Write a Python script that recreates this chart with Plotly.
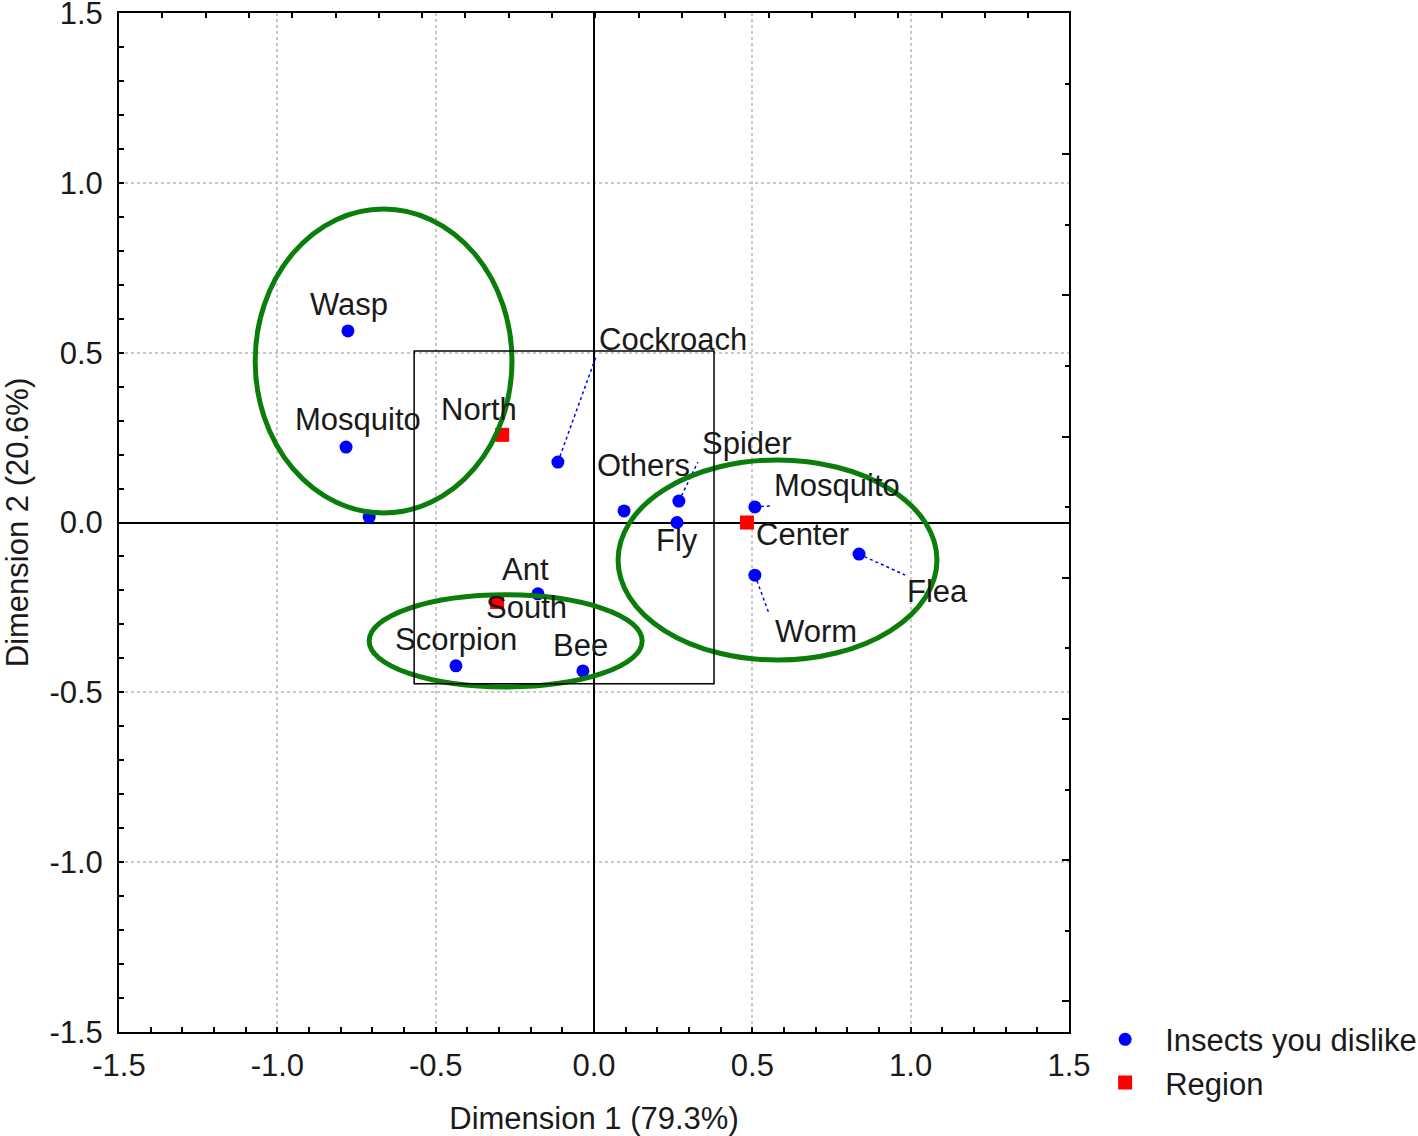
import plotly.graph_objects as go

# ---------------- data ----------------
insect_names = ["Wasp", "Mosquito", "", "Cockroach", "Others", "Spider", "Fly",
                "Mosquito", "Flea", "Worm", "Ant", "Scorpion", "Bee"]
insect_x = [-0.777, -0.783, -0.710, -0.114, 0.095, 0.268, 0.262,
            0.508, 0.837, 0.508, -0.177, -0.436, -0.035]
insect_y = [0.564, 0.222, 0.016, 0.178, 0.034, 0.063, 0.000,
            0.046, -0.093, -0.155, -0.210, -0.422, -0.437]

region_names = ["North", "Center", "South"]
region_x = [-0.290, 0.483, -0.306]
region_y = [0.258, 0.000, -0.234]

# cluster ellipses (x0, x1, y0, y1) in data units
clusters_x0 = [-1.070, -0.710, 0.076]
clusters_x1 = [-0.259, 0.152, 1.083]
clusters_y0 = [0.028, -0.484, -0.405]
clusters_y1 = [0.923, -0.213, 0.184]

# inner frame
inner_box = (-0.568, 0.379, -0.475, 0.505)

tick_vals = [-1.5, -1.0, -0.5, 0.0, 0.5, 1.0, 1.5]
tick_text = ["-1.5", "-1.0", "-0.5", "0.0", "0.5", "1.0", "1.5"]

x_title = "Dimension 1 (79.3%)"
y_title = "Dimension 2 (20.6%)"

# ---------------- layout constants ----------------
W, H = 1418, 1136
ML, MR, MT, MB = 119, 349, 13, 104
PW, PH = W - ML - MR, H - MT - MB
SX, SY = PW / 3.0, PH / 3.0  # px per unit

FONT = "Liberation Sans, Arial, sans-serif"
TXT = "#1a1a1a"
FS = 31

# label offsets in px (dx right, dy down) relative to the point
insect_label_off = [(1, -26), (12, -28), (0, 0), (115, -123), (19, -45), (68, -58), (0, 18),
                    (82, -21), (78, 37), (61, 56), (-12, -24), (0, -26), (-2, -25)]
# leader line ends in px (None = no leader)
insect_leader = [None, None, None, (38, -105), None, (19, -39), None,
                 (17, -1), (46, 21), (14, 38), None, None, None]
region_label_off = [(-23, -25), (56, 12), (29, 6)]

fig = go.Figure()

# leader lines
for x, y, ld in zip(insect_x, insect_y, insect_leader):
    if ld is None:
        continue
    fig.add_shape(type="line", x0=x, y0=y, x1=x + ld[0] / SX, y1=y - ld[1] / SY,
                  line=dict(color="#0000ff", width=1.5, dash="dot"), layer="above")

fig.add_trace(go.Scatter(x=insect_x, y=insect_y, mode="markers", name="Insects you dislike",
                         marker=dict(symbol="circle", size=13, color="#0000ff")))
fig.add_trace(go.Scatter(x=region_x, y=region_y, mode="markers", name="Region",
                         marker=dict(symbol="square", size=14, color="#ff0000")))
# carrier for top/right secondary tick axes
fig.add_trace(go.Scatter(x=[], y=[], xaxis="x2", yaxis="y2", showlegend=False,
                         hoverinfo="skip"))

# labels
for name, x, y, off in zip(insect_names + region_names, insect_x + region_x,
                           insect_y + region_y, insect_label_off + region_label_off):
    if not name:
        continue
    fig.add_annotation(x=x, y=y, text=name, showarrow=False, xshift=off[0], yshift=-off[1],
                       font=dict(family=FONT, size=FS, color=TXT))

# ellipses
for x0, x1, y0, y1 in zip(clusters_x0, clusters_x1, clusters_y0, clusters_y1):
    fig.add_shape(type="circle", x0=x0, x1=x1, y0=y0, y1=y1,
                  line=dict(color="#0b7d0b", width=5), layer="above")

fig.add_shape(type="rect", x0=inner_box[0], x1=inner_box[1], y0=inner_box[2], y1=inner_box[3],
              line=dict(color="black", width=1.5), layer="above")

axis_common = dict(
    range=[-1.5, 1.5], tickvals=tick_vals, ticktext=tick_text,
    ticks="inside", ticklen=5, tickwidth=1.5, tickcolor="black",
    minor=dict(ticks="inside", dtick=0.1, tick0=0, ticklen=5, tickwidth=1.5, tickcolor="black",
               showgrid=False),
    showgrid=True, gridcolor="#c8c8c8", griddash="dot", gridwidth=1.5,
    zeroline=True, zerolinecolor="black", zerolinewidth=1.5,
    showline=True, linecolor="black", linewidth=2, mirror=True,
    tickfont=dict(family=FONT, size=FS, color=TXT),
    ticklabeloverflow="allow",
    fixedrange=True,
)

fig.update_layout(
    width=W, height=H,
    margin=dict(l=ML, r=MR, t=MT, b=MB, autoexpand=False),
    paper_bgcolor="white", plot_bgcolor="white",
    showlegend=True,
    legend=dict(x=1.017, y=0.019, xanchor="left", yanchor="top",
                font=dict(family=FONT, size=FS, color=TXT), bgcolor="rgba(0,0,0,0)",
                tracegroupgap=0, itemwidth=70),
    xaxis=dict(**axis_common, ticklabelstandoff=5,
               title=dict(text=x_title, font=dict(family=FONT, size=FS, color=TXT), standoff=27)),
    yaxis=dict(**axis_common, ticklabelstandoff=8,
               title=dict(text=y_title, font=dict(family=FONT, size=FS, color=TXT), standoff=31)),
    xaxis2=dict(overlaying="x", side="top", anchor="y", range=[0, PW / 43.3], dtick=1, tick0=0,
                ticks="inside", ticklen=5, tickwidth=1.5, tickcolor="black",
                showticklabels=False, showgrid=False, zeroline=False, showline=False,
                fixedrange=True),
    yaxis2=dict(overlaying="y", side="right", anchor="x", range=[PH / 70.6, 0], dtick=2, tick0=0,
                ticks="inside", ticklen=7, tickwidth=1.5, tickcolor="black",
                minor=dict(ticks="inside", dtick=1, ticklen=4, tickwidth=1.5, tickcolor="black"),
                showticklabels=False, showgrid=False, zeroline=False, showline=False,
                fixedrange=True),
)

fig.write_html("out.html", config={"displayModeBar": False},
               post_script="document.body.style.margin='0px';")
